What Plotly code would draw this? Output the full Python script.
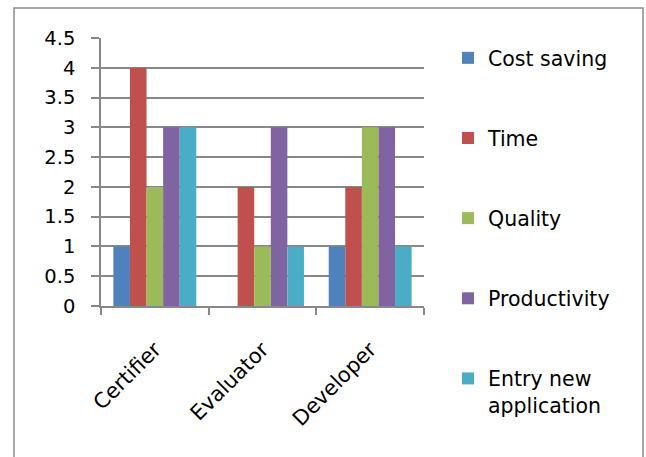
import plotly.graph_objects as go

categories = ["Certifier", "Evaluator", "Developer"]
cost_saving = [1, 0, 1]
time_vals = [4, 2, 2]
quality = [2, 1, 3]
productivity = [3, 3, 3]
entry_new_app = [3, 1, 1]

series_names = ["Cost saving", "Time", "Quality", "Productivity", "Entry new<br>application"]
series_values = [cost_saving, time_vals, quality, productivity, entry_new_app]
colors = ["#4F81BD", "#C0504D", "#9BBB59", "#8064A2", "#4BACC6"]

W, H = 646, 457
L, R, T, B = 101, 222, 38, 151
pw, ph = W - L - R, H - T - B

def px(x):
    return (x - L) / pw

def py(y):
    return (H - B - y) / ph

FONT = "DejaVu Sans"
grid = "#888888"
FS = 20.5

fig = go.Figure()
for i, (name, vals, c) in enumerate(zip(series_names, series_values, colors)):
    fig.add_trace(go.Bar(x=categories, y=vals, name=name, marker=dict(color=c, line=dict(width=0)),
                         legendgroup=f"g{i}"))

fig.update_layout(
    width=W, height=H, autosize=False,
    margin=dict(l=L, r=R, t=T, b=B, pad=0),
    paper_bgcolor="white", plot_bgcolor="white",
    font=dict(family=FONT, size=FS, color="black"),
    barmode="group", bargap=0.23, bargroupgap=0,
    legend=dict(x=px(448), y=py(38), xanchor="left", yanchor="top", valign="top",
                font=dict(family=FONT, size=FS, color="black"),
                tracegroupgap=50.5, bgcolor="rgba(0,0,0,0)", borderwidth=0,
                maxheight=440),
    xaxis=dict(showline=True, linecolor=grid, linewidth=1.5, ticks="outside", tickson="boundaries",
               ticklen=7, tickwidth=1.5, tickcolor=grid, tickangle=-45, tickfont=dict(size=21),
               showgrid=False, ticklabelstandoff=21),
    yaxis=dict(range=[0, 4.5], dtick=0.5, tick0=0, showgrid=True, gridcolor=grid, gridwidth=1.5,
               showline=True, linecolor=grid, linewidth=1.5, ticks="outside", ticklen=8, tickwidth=1.5,
               tickcolor=grid, tickfont=dict(size=19.5), zeroline=False, ticklabelstandoff=12),
    shapes=[dict(type="rect", xref="paper", yref="paper", x0=px(14), x1=px(643), y0=py(470), y1=py(8),
                 line=dict(color="#8c8c8c", width=1.5), fillcolor="rgba(0,0,0,0)", layer="above")],
)

fig.write_html("out.html")
